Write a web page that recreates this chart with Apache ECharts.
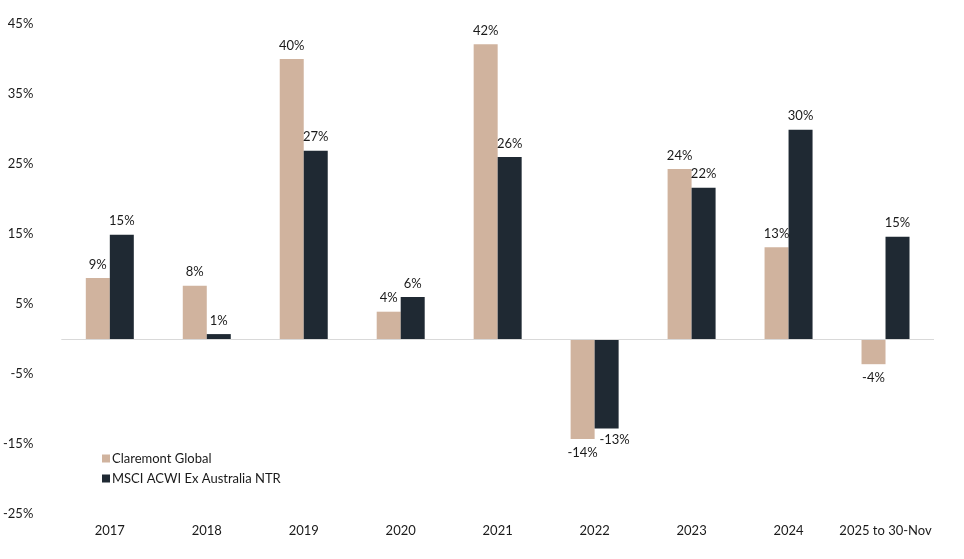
<!DOCTYPE html>
<html>
<head>
<meta charset="utf-8">
<script src="https://cdn.jsdelivr.net/npm/echarts@6/dist/echarts.min.js"></script>
<style>html,body{margin:0;padding:0;background:#fff;}#c{width:964px;height:559px;}</style>
</head>
<body>
<div id="c"></div>
<script>
const categories = ['2017','2018','2019','2020','2021','2022','2023','2024','2025 to 30-Nov'];
const claremont = [8.7, 7.6, 40.0, 3.9, 42.1, -14.3, 24.3, 13.1, -3.6];
const msci = [14.9, 0.7, 26.9, 6.0, 26.0, -12.8, 21.6, 29.9, 14.6];
const seriesNames = ['Claremont Global', 'MSCI ACWI Ex Australia NTR'];

const font = 'Lato, "Noto Sans", sans-serif';
const txt = '#1a1a1a';

function items(arr, negOffset) {
  return arr.map(v => ({
    value: v,
    label: v < 0 ? { position: 'bottom', offset: negOffset } : { position: 'top' }
  }));
}

const chart = echarts.init(document.getElementById('c'));
chart.setOption({
  animation: false,
  grid: { left: 61, right: 30, top: 24, bottom: 45 },
  legend: {
    orient: 'vertical', left: 97, top: 447,
    itemWidth: 8, itemHeight: 8, itemGap: 7,
    icon: 'rect',
    textStyle: { fontFamily: font, fontSize: 13, color: txt, padding: [0, 0, 0, -3] },
    data: seriesNames
  },
  xAxis: {
    type: 'category', data: categories,
    axisLine: { show: false }, axisTick: { show: false },
    axisLabel: { fontFamily: font, fontSize: 13, color: txt, margin: 10, interval: 0 }
  },
  yAxis: {
    type: 'value', min: -25, max: 45, interval: 10,
    splitLine: { show: false },
    axisLine: { show: false }, axisTick: { show: false },
    axisLabel: { fontFamily: font, fontSize: 13, color: txt, margin: 28, formatter: v => v + '%' }
  },
  series: [
    {
      name: seriesNames[0], type: 'bar', data: items(claremont, [0, 0]),
      barWidth: 24, barGap: '0%',
      itemStyle: { color: '#D0B39E' },
      label: { show: true, fontFamily: font, fontSize: 13, color: txt, distance: 7,
               formatter: p => Math.round(p.value) + '%' },
      markLine: {
        silent: true, symbol: 'none', label: { show: false },
        lineStyle: { color: '#d9d9d9', type: 'solid', width: 1 },
        data: [{ yAxis: 0 }]
      },
      z: 3
    },
    {
      name: seriesNames[1], type: 'bar', data: items(msci, [8, -2]),
      barWidth: 24, barGap: '0%',
      itemStyle: { color: '#1F2933' },
      label: { show: true, fontFamily: font, fontSize: 13, color: txt, distance: 7,
               formatter: p => Math.round(p.value) + '%' },
      z: 3
    }
  ]
});
</script>
</body>
</html>
